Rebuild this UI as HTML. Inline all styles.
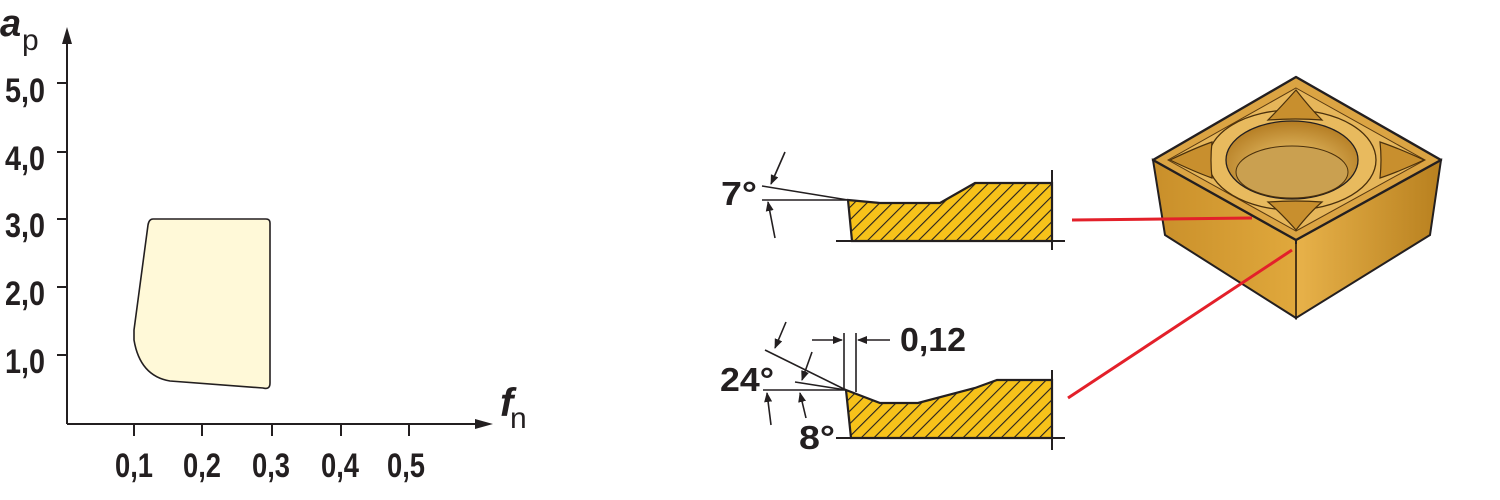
<!DOCTYPE html>
<html><head><meta charset="utf-8"><style>
html,body{margin:0;padding:0;background:#fff;}
svg{display:block;}
text{font-family:"Liberation Sans",sans-serif;fill:#231f20;font-weight:bold;}
</style></head><body>
<svg width="1500" height="500" viewBox="0 0 1500 500" xmlns="http://www.w3.org/2000/svg">
<defs>
<pattern id="hatch" patternUnits="userSpaceOnUse" width="9" height="9" patternTransform="rotate(45)">
<rect width="9" height="9" fill="#f7c21a"/>
<line x1="0" y1="0" x2="0" y2="9" stroke="#231f20" stroke-width="2.2"/>
</pattern>
<linearGradient id="side1" x1="0" y1="0" x2="1" y2="0">
<stop offset="0" stop-color="#c98f2a"/><stop offset="1" stop-color="#e0a83c"/></linearGradient>
<linearGradient id="side2" x1="0" y1="0" x2="1" y2="0">
<stop offset="0" stop-color="#e8b24a"/><stop offset="1" stop-color="#b8801f"/></linearGradient>
<radialGradient id="hole" cx="0.5" cy="0.6" r="0.6">
<stop offset="0" stop-color="#f2cf7a"/><stop offset="1" stop-color="#b47c22"/></radialGradient>
<marker id="ah" markerWidth="10" markerHeight="8" refX="9" refY="4" orient="auto" markerUnits="userSpaceOnUse">
<path d="M0,0 L10,4 L0,8 z" fill="#231f20"/></marker>
</defs>

<!-- Chart -->
<line x1="67" y1="424" x2="67" y2="40" stroke="#231f20" stroke-width="2"/>
<path d="M62,44 L67,27 L72,44 z" fill="#231f20"/>
<line x1="67" y1="424" x2="478" y2="424" stroke="#231f20" stroke-width="2"/>
<path d="M475,419 L493,424 L475,429 z" fill="#231f20"/>
<g stroke="#231f20" stroke-width="2">
<line x1="57" y1="83" x2="67" y2="83"/><line x1="57" y1="152" x2="67" y2="152"/>
<line x1="57" y1="219" x2="67" y2="219"/><line x1="57" y1="287" x2="67" y2="287"/>
<line x1="57" y1="355" x2="67" y2="355"/>
<line x1="134" y1="424" x2="134" y2="436"/><line x1="202" y1="424" x2="202" y2="436"/>
<line x1="272" y1="424" x2="272" y2="436"/><line x1="341" y1="424" x2="341" y2="436"/>
<line x1="409" y1="424" x2="409" y2="436"/>
</g>
<g style="font-size:34px">
<text x="5" y="102" textLength="40" lengthAdjust="spacingAndGlyphs">5,0</text>
<text x="5" y="170" textLength="40" lengthAdjust="spacingAndGlyphs">4,0</text>
<text x="5" y="237" textLength="40" lengthAdjust="spacingAndGlyphs">3,0</text>
<text x="5" y="305" textLength="40" lengthAdjust="spacingAndGlyphs">2,0</text>
<text x="5" y="373" textLength="40" lengthAdjust="spacingAndGlyphs">1,0</text>
<text x="115" y="477" textLength="38" lengthAdjust="spacingAndGlyphs">0,1</text>
<text x="183" y="477" textLength="38" lengthAdjust="spacingAndGlyphs">0,2</text>
<text x="252" y="477" textLength="38" lengthAdjust="spacingAndGlyphs">0,3</text>
<text x="321" y="477" textLength="38" lengthAdjust="spacingAndGlyphs">0,4</text>
<text x="387" y="477" textLength="38" lengthAdjust="spacingAndGlyphs">0,5</text>
</g>
<text x="0" y="36" style="font-size:38px;font-style:italic">a</text>
<text x="22" y="50" style="font-size:30px;font-weight:normal">p</text>
<text x="500" y="416" style="font-size:40px;font-style:italic">f</text>
<text x="510" y="428" style="font-size:30px;font-weight:normal">n</text>
<path d="M153,219 L266,219 Q270,219 270,223 L270,383 Q270,390 263,388 L170,381 Q140,376 134,340 L134,330 L148,225 Q149,219 153,219 z" fill="#fff9d8" stroke="#231f20" stroke-width="1.6"/>

<!-- Top profile -->
<path d="M848,200 L880,203 L940,203 L975,183 L1052,183 L1052,241 L852,241 z" fill="url(#hatch)" stroke="#231f20" stroke-width="2.2"/>
<g stroke="#231f20" stroke-width="1.6" fill="none">
<line x1="762" y1="200" x2="848" y2="200"/>
<line x1="762" y1="186" x2="848" y2="200"/>
<line x1="836" y1="241" x2="1065" y2="241" stroke-width="2"/>
<line x1="1052" y1="170" x2="1052" y2="250" stroke-width="2"/>
<line x1="785" y1="152" x2="771" y2="184" marker-end="url(#ah)"/>
<line x1="775" y1="238" x2="768" y2="202" marker-end="url(#ah)"/>
</g>
<text x="721" y="205" style="font-size:33px" textLength="36" lengthAdjust="spacingAndGlyphs">7°</text>

<!-- Bottom profile -->
<path d="M846,390 L880,403 L918,403 L975,388 L997,380 L1052,380 L1052,438 L851,438 z" fill="url(#hatch)" stroke="#231f20" stroke-width="2.2"/>
<g stroke="#231f20" stroke-width="1.6" fill="none">
<line x1="763" y1="390" x2="846" y2="390"/>
<line x1="795" y1="382" x2="846" y2="390"/>
<line x1="765" y1="350" x2="846" y2="390"/>
<line x1="844" y1="333" x2="844" y2="390"/>
<line x1="856" y1="333" x2="856" y2="392"/>
<line x1="812" y1="340" x2="842" y2="340" marker-end="url(#ah)"/>
<line x1="890" y1="340" x2="858" y2="340" marker-end="url(#ah)"/>
<line x1="836" y1="438" x2="1065" y2="438" stroke-width="2"/>
<line x1="1052" y1="370" x2="1052" y2="450" stroke-width="2"/>
<line x1="786" y1="322" x2="775" y2="348" marker-end="url(#ah)"/>
<line x1="812" y1="352" x2="802" y2="380" marker-end="url(#ah)"/>
<line x1="771" y1="425" x2="767" y2="393" marker-end="url(#ah)"/>
<line x1="806" y1="418" x2="800" y2="393" marker-end="url(#ah)"/>
</g>
<text x="900" y="351" style="font-size:33px" textLength="66" lengthAdjust="spacingAndGlyphs">0,12</text>
<text x="720" y="391" style="font-size:33px" textLength="54" lengthAdjust="spacingAndGlyphs">24°</text>
<text x="799" y="449" style="font-size:33px" textLength="36" lengthAdjust="spacingAndGlyphs">8°</text>

<!-- Insert -->
<path d="M1153,160 L1296,240 L1296,318 L1165,235 z" fill="url(#side1)" stroke="#231f20" stroke-width="2"/>
<path d="M1296,240 L1441,160 L1430,235 L1296,318 z" fill="url(#side2)" stroke="#231f20" stroke-width="2"/>
<path d="M1296,77 L1441,160 L1296,240 L1153,160 z" fill="#dba443" stroke="#231f20" stroke-width="2.4" stroke-linejoin="round"/>
<path d="M1296,88 L1425,160 L1296,231 L1168,160 z" fill="#e6b65a" stroke="#5a3a10" stroke-width="1"/>
<ellipse cx="1292" cy="160" rx="84" ry="50" fill="#e8ba5e" stroke="#4a300c" stroke-width="1.3"/>
<ellipse cx="1292" cy="160" rx="66" ry="39" fill="url(#hole)" stroke="#231f20" stroke-width="1.3"/>
<ellipse cx="1292" cy="172" rx="56" ry="26" fill="#caa050" stroke="#4a300c" stroke-width="1"/>
<g fill="#c88f2e" stroke="#4a300c" stroke-width="1.2">
<path d="M1296,90 Q1280,108 1268,120 Q1296,118 1322,120 Q1310,108 1296,90 z"/>
<path d="M1296,230 Q1280,212 1268,202 Q1296,200 1322,202 Q1310,212 1296,230 z"/>
<path d="M1170,160 Q1195,148 1212,142 Q1210,160 1212,178 Q1195,172 1170,160 z"/>
<path d="M1424,160 Q1398,148 1380,142 Q1382,160 1380,178 Q1398,172 1424,160 z"/>
</g>
<line x1="1296" y1="244" x2="1296" y2="316" stroke="#7a5010" stroke-width="1"/>

<!-- Red leaders -->
<line x1="1072" y1="220" x2="1252" y2="218" stroke="#e3202a" stroke-width="3"/>
<line x1="1068" y1="398" x2="1292" y2="250" stroke="#e3202a" stroke-width="3"/>
</svg>
</body></html>
